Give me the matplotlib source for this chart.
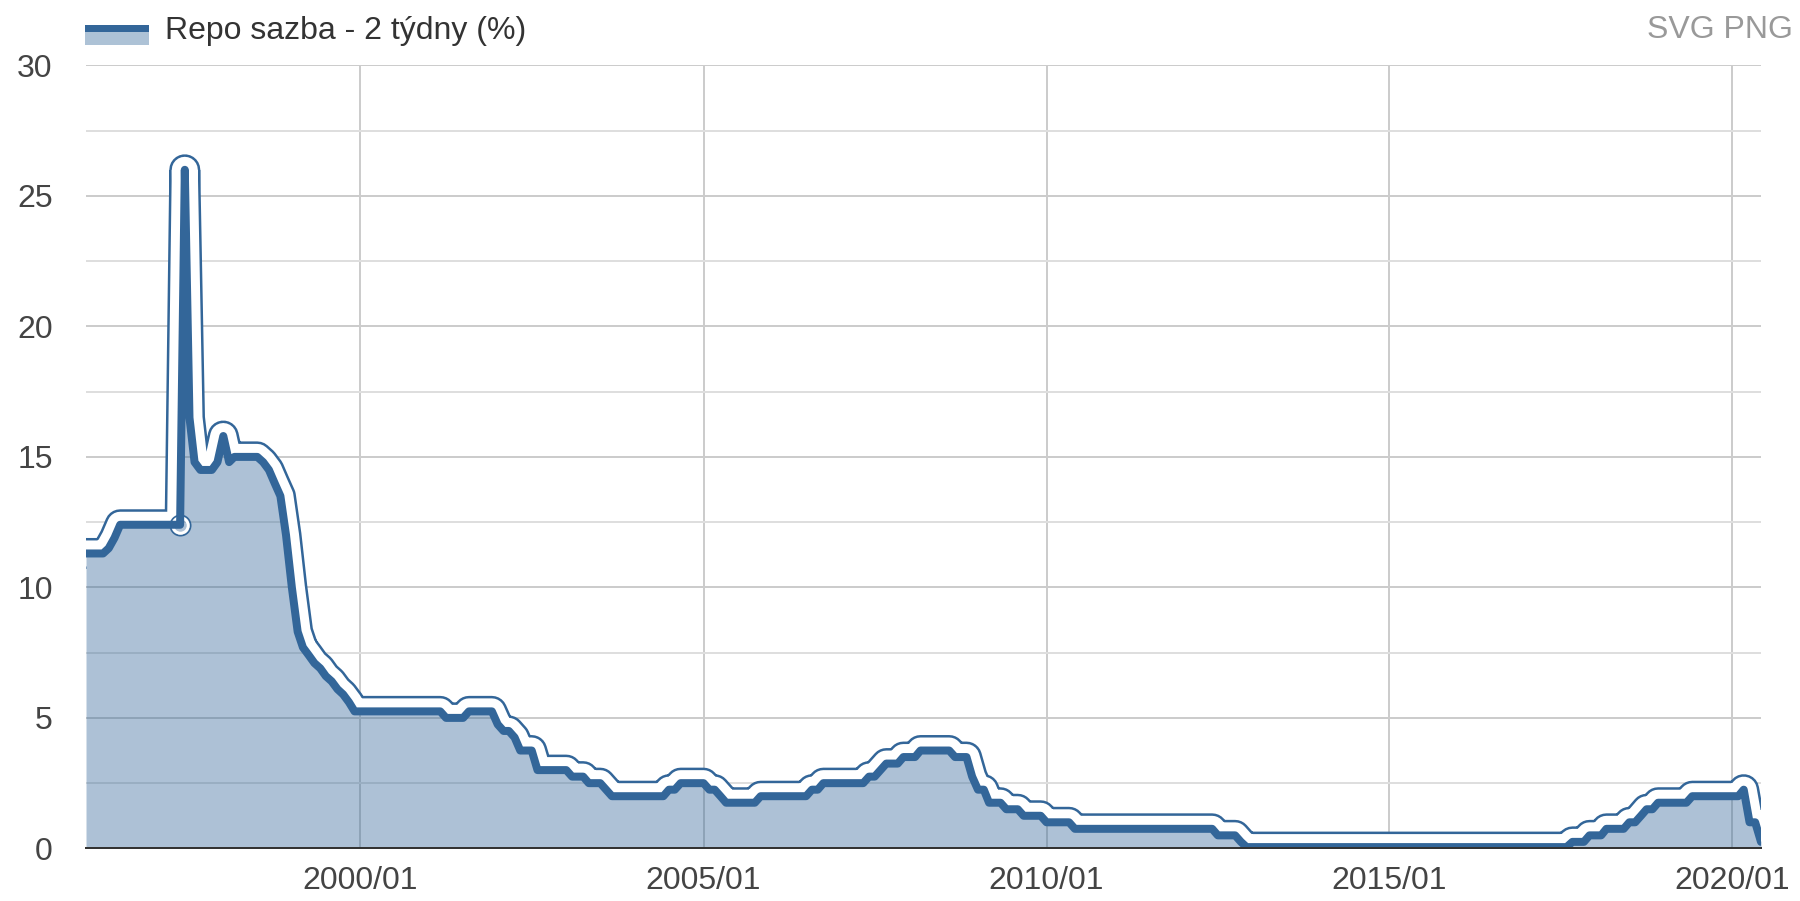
import matplotlib
matplotlib.use("Agg")
import matplotlib.pyplot as plt
import matplotlib.dates as mdates
from matplotlib.patches import Rectangle
import numpy as np
import pandas as pd

# ---------------- data ----------------
series_label = "Repo sazba - 2 týdny (%)"
dates = [
    "1996-01-01", "1996-04-01", "1996-05-01", "1996-06-01", "1996-07-01",
    "1997-05-16", "1997-06-10", "1997-07-05", "1997-08-01", "1997-09-01",
    "1997-11-01", "1997-12-01", "1998-01-01", "1998-02-01", "1998-03-01",
    "1998-07-01", "1998-08-01", "1998-09-01", "1998-10-01", "1998-11-01",
    "1998-12-01", "1999-01-01", "1999-02-01", "1999-03-01", "1999-04-01",
    "1999-05-01", "1999-06-01", "1999-07-01", "1999-08-01", "1999-09-01",
    "1999-10-01", "1999-11-01", "1999-12-01", "2001-03-01", "2001-04-01",
    "2001-07-01", "2001-08-01", "2001-12-01", "2002-01-01", "2002-02-01",
    "2002-03-01", "2002-04-01", "2002-05-01", "2002-07-01", "2002-08-01",
    "2003-01-01", "2003-02-01", "2003-04-01", "2003-05-01", "2003-07-01",
    "2003-08-01", "2003-09-01", "2004-06-01", "2004-07-01", "2004-08-01",
    "2004-09-01", "2005-01-01", "2005-02-01", "2005-03-01", "2005-04-01",
    "2005-05-01", "2005-10-01", "2005-11-01", "2006-07-01", "2006-08-01",
    "2006-09-01", "2006-10-01", "2007-05-01", "2007-06-01", "2007-07-01",
    "2007-08-01", "2007-09-01", "2007-11-01", "2007-12-01", "2008-02-01",
    "2008-03-01", "2008-08-01", "2008-09-01", "2008-11-01", "2008-12-01",
    "2009-01-01", "2009-02-01", "2009-03-01", "2009-05-01", "2009-06-01",
    "2009-08-01", "2009-09-01", "2009-12-01", "2010-01-01", "2010-05-01",
    "2010-06-01", "2012-06-01", "2012-07-01", "2012-10-01", "2012-11-01",
    "2012-12-01", "2017-08-01", "2017-09-01", "2017-11-01", "2017-12-01",
    "2018-02-01", "2018-03-01", "2018-06-01", "2018-07-01", "2018-08-01",
    "2018-09-01", "2018-10-01", "2018-11-01", "2018-12-01", "2019-05-01",
    "2019-06-01", "2020-02-01", "2020-03-01", "2020-04-01", "2020-05-01",
    "2020-06-01",
]
values = [
    11.30, 11.30, 11.50, 11.90, 12.40,
    12.40, 26.00, 16.50, 14.80, 14.50,
    14.50, 14.80, 15.80, 14.80, 15.00,
    15.00, 14.80, 14.50, 14.00, 13.50,
    12.00, 10.00, 8.30, 7.70, 7.40,
    7.10, 6.90, 6.60, 6.40, 6.10,
    5.90, 5.60, 5.25, 5.25, 5.00,
    5.00, 5.25, 5.25, 4.75, 4.50,
    4.50, 4.25, 3.75, 3.75, 3.00,
    3.00, 2.75, 2.75, 2.50, 2.50,
    2.25, 2.00, 2.00, 2.25, 2.25,
    2.50, 2.50, 2.25, 2.25, 2.00,
    1.75, 1.75, 2.00, 2.00, 2.25,
    2.25, 2.50, 2.50, 2.75, 2.75,
    3.00, 3.25, 3.25, 3.50, 3.50,
    3.75, 3.75, 3.50, 3.50, 2.75,
    2.25, 2.25, 1.75, 1.75, 1.50,
    1.50, 1.25, 1.25, 1.00, 1.00,
    0.75, 0.75, 0.50, 0.50, 0.25,
    0.05, 0.05, 0.25, 0.25, 0.50,
    0.50, 0.75, 0.75, 1.00, 1.00,
    1.25, 1.50, 1.50, 1.75, 1.75,
    2.00, 2.00, 2.25, 1.00, 1.00,
    0.25,
]
highlight_date = "1997-05-16"
highlight_value = 12.40
y_major_ticks = [0, 5, 10, 15, 20, 25, 30]
y_minor_ticks = [2.5, 7.5, 12.5, 17.5, 22.5, 27.5]
corner_links = "SVG PNG"

# ---------------- style ----------------
plt.rcParams["font.family"] = ["Liberation Sans", "DejaVu Sans"]
PX = 72 / 100.0  # points per pixel at dpi 100
BLUE = "#336699"
FILL = "#adc2d6"
GRID = "#cccccc"
GRID_MINOR = "#dedede"

W, H = 1800, 901
fig = plt.figure(figsize=(W / 100, H / 100), dpi=100)
left, right, top, bottom = 86, 1761, 65.4, 848.4
ax = fig.add_axes([left / W, 1 - bottom / H, (right - left) / W, (bottom - top) / H])

x = pd.to_datetime(dates)
y = np.array(values)

ax.set_xlim(x[0], x[-1])
ax.set_ylim(0, 30)
ax.xaxis.set_major_locator(mdates.YearLocator(5, month=1, day=1))
ax.xaxis.set_major_formatter(mdates.DateFormatter("%Y/%m"))
ax.set_yticks(y_major_ticks)
ax.set_yticks(y_minor_ticks, minor=True)

ax.set_axisbelow(True)
ax.grid(axis="x", which="major", color=GRID, lw=2 * PX)
ax.grid(axis="y", which="major", color=GRID, lw=2 * PX)
ax.grid(axis="y", which="minor", color=GRID_MINOR, lw=2 * PX)

# halo around the line
ax.plot(x, y, color=BLUE, lw=31 * PX, solid_joinstyle="round",
        solid_capstyle="round", zorder=1.0)
ax.plot(x, y, color="white", lw=26 * PX, solid_joinstyle="round",
        solid_capstyle="round", zorder=1.1)
# white area under the curve hides the lower half of the halo
wf = ax.fill_between(x, 0, y, color="white", lw=0, zorder=1.2)
clip = wf.get_paths()[0]

# grid lines again, visible through the translucent area only
fig.canvas.draw()
for xt in ax.get_xticks():
    ln = ax.axvline(xt, color=GRID, lw=2 * PX, zorder=1.3)
    ln.set_clip_path(clip, ax.transData)
for yt in y_major_ticks:
    ln = ax.axhline(yt, color=GRID, lw=2 * PX, zorder=1.3)
    ln.set_clip_path(clip, ax.transData)
for yt in y_minor_ticks:
    ln = ax.axhline(yt, color=GRID_MINOR, lw=2 * PX, zorder=1.3)
    ln.set_clip_path(clip, ax.transData)

ax.fill_between(x, 0, y, color=BLUE, alpha=0.4, lw=0, zorder=1.4)

# highlighted point at the base of the spike
hx = pd.to_datetime([highlight_date])
ax.plot(hx, [highlight_value], marker="o", ms=20 * PX, mfc="none",
        mec=BLUE, mew=2 * PX, ls="none", zorder=1.5)
ax.plot(hx, [highlight_value], marker="o", ms=15.5 * PX, mfc="none",
        mec="white", mew=3 * PX, ls="none", zorder=1.5)

ax.plot(x, y, color=BLUE, lw=8 * PX, solid_joinstyle="round",
        solid_capstyle="round", zorder=2)

for s in ["left", "right", "top"]:
    ax.spines[s].set_visible(False)
ax.spines["bottom"].set_color("#333333")
ax.spines["bottom"].set_linewidth(2 * PX)
ax.spines["bottom"].set_zorder(2.5)

ax.tick_params(axis="both", which="both", length=0, labelsize=23,
               colors="#444444")
ax.tick_params(axis="x", pad=13)
ax.tick_params(axis="y", pad=24)

# legend
fig.add_artist(Rectangle((85 / W, 1 - 45 / H), 64 / W, 13 / H,
                         transform=fig.transFigure, color=FILL, lw=0))
fig.add_artist(Rectangle((85 / W, 1 - 32 / H), 64 / W, 7 / H,
                         transform=fig.transFigure, color=BLUE, lw=0))
fig.text(165 / W, 1 - 31.5 / H, series_label, fontsize=23, color="#333333",
         ha="left", va="center")
fig.text(1793 / W, 1 - 30 / H, corner_links, fontsize=23, color="#999999",
         ha="right", va="center")

fig.savefig("out.png", dpi=100)
